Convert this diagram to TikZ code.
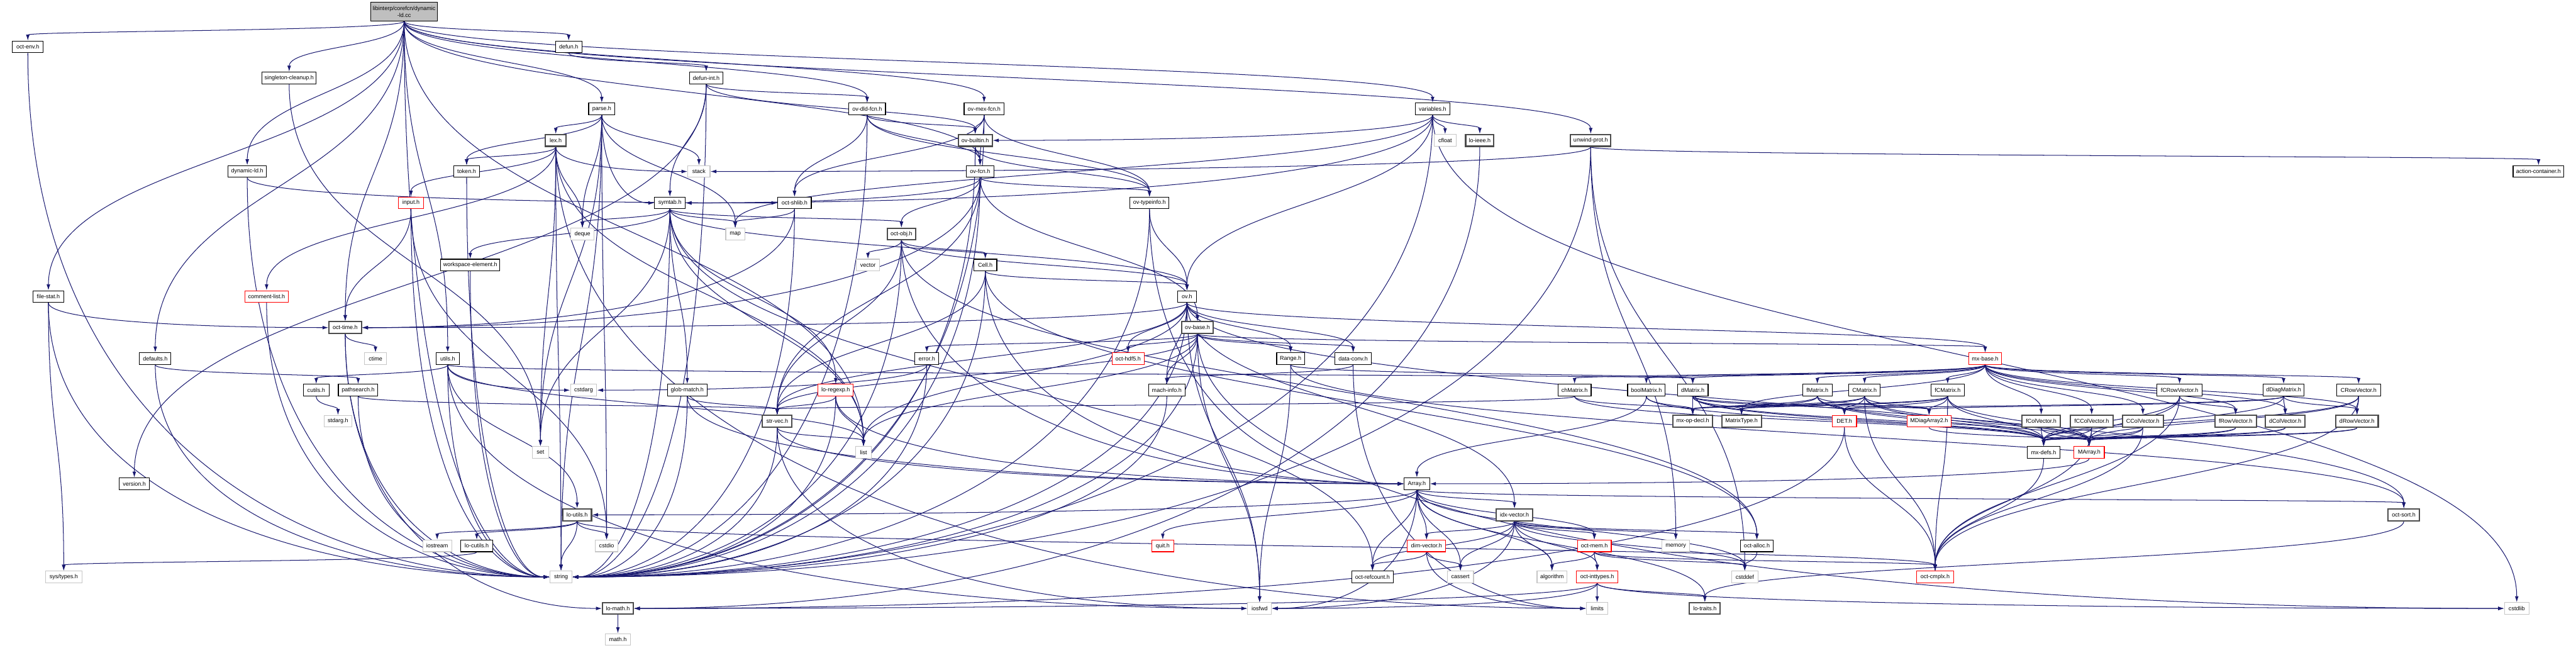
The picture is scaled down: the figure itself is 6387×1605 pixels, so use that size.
\documentclass[tikz,border=0pt]{standalone}
\usepackage{fontspec}
\setmainfont{Liberation Sans}
\usetikzlibrary{arrows.meta,backgrounds,calc}
\definecolor{mblue}{HTML}{191970}
\definecolor{rootgray}{HTML}{BFBFBF}
\begin{document}
\begin{tikzpicture}[x=0.01cm,y=0.01cm,
  base/.style={rectangle, minimum height=0.29cm, inner sep=0pt, font=\fontsize{4}{4.6}\selectfont, fill=white, line width=0.5pt},
  hn/.style={base, draw=black},
  hg/.style={base, draw=black!70, line width=0.9pt},
  sy/.style={base, draw=gray!45},
  redn/.style={base, draw=red},
  rootn/.style={base, draw=black, fill=rootgray, minimum height=0.46cm, align=center},
  edbase/.style={draw=mblue, line width=0.45pt, -{Latex[length=4.2pt,width=2.6pt]}},
  ed/.style={edbase, to path={let \p1=(\tikztostart.south), \p2=(\tikztotarget.north), \n1={max(0.5*(\y1-\y2),4pt)} in (\p1) .. controls +(0pt,{-1pt*\n1}) and +(0pt,{1pt*\n1}) .. (\p2)}},
  edL/.style={edbase, to path={let \p1=(\tikztostart.south), \p2=(\tikztotarget.west), \n1={max(0.7*(\y1-\y2),4pt)}, \n2={max(0.5*(\x2-\x1),4pt)} in (\p1) .. controls +(0pt,{-1pt*\n1}) and +({-1pt*\n2},0pt) .. (\p2)}},
  edR/.style={edbase, to path={let \p1=(\tikztostart.south), \p2=(\tikztotarget.east), \n1={max(0.7*(\y1-\y2),4pt)}, \n2={max(0.5*(\x1-\x2),4pt)} in (\p1) .. controls +(0pt,{-1pt*\n1}) and +({1pt*\n2},0pt) .. (\p2)}}]
\useasboundingbox (0,0) rectangle (6387,-1605);
% rank 0-1
\node[rootn, minimum width=1.65cm] (root) at (1002,-29) {libinterp/corefcn/dynamic\\-ld.cc};
\node[hn, minimum width=0.76cm] (envh) at (69,-116) {oct-env.h};
\node[hn, minimum width=0.65cm] (defunh) at (1410,-116) {defun.h};
% rank 2
\node[hn, minimum width=1.34cm] (singh) at (717,-193) {singleton-cleanup.h};
\node[hn, minimum width=0.83cm] (defunint) at (1751,-193) {defun-int.h};
% rank 3
\node[hn, minimum width=0.65cm] (parse) at (1492,-270) {parse.h};
\node[hn, minimum width=0.91cm] (ovdld) at (2150,-270) {ov-dld-fcn.h};
\node[hn, minimum width=0.99cm] (ovmex) at (2440,-270) {ov-mex-fcn.h};
\node[hn, minimum width=0.86cm] (vars) at (3552,-270) {variables.h};
% rank 4
\node[hg, minimum width=0.51cm] (lex) at (1378,-348) {lex.h};
\node[hg, minimum width=0.84cm] (ovbuiltin) at (2418,-348) {ov-builtin.h};
\node[sy, minimum width=0.55cm] (cfloat) at (3583,-348) {cfloat};
\node[hg, minimum width=0.70cm] (loieee) at (3669,-348) {lo-ieee.h};
\node[hg, minimum width=1.00cm] (unwind) at (3944,-348) {unwind-prot.h};
% rank 5
\node[hn, minimum width=0.96cm] (dynld) at (613,-425) {dynamic-ld.h};
\node[hn, minimum width=0.65cm] (token) at (1157,-425) {token.h};
\node[sy, minimum width=0.55cm] (stack) at (1733,-425) {stack};
\node[hn, minimum width=0.69cm] (ovfcn) at (2430,-425) {ov-fcn.h};
\node[hn, minimum width=1.26cm] (actcont) at (6294,-425) {action-container.h};
% rank 6
\node[redn, minimum width=0.61cm] (input) at (1019,-503) {input.h};
\node[hn, minimum width=0.76cm] (symtab) at (1661,-503) {symtab.h};
\node[hn, minimum width=0.83cm] (shlib) at (1970,-503) {oct-shlib.h};
\node[hn, minimum width=0.97cm] (typeinfo) at (2850,-503) {ov-typeinfo.h};
% rank 7
\node[sy, minimum width=0.57cm] (deque) at (1444,-580) {deque};
\node[sy, minimum width=0.47cm] (map) at (1823,-580) {map};
\node[hg, minimum width=0.71cm] (octobj) at (2235,-580) {oct-obj.h};
% rank 8
\node[hn, minimum width=1.47cm] (wselem) at (1166,-657) {workspace-element.h};
\node[sy, minimum width=0.58cm] (vector) at (2152,-657) {vector};
\node[hn, minimum width=0.57cm] (cell) at (2443,-657) {Cell.h};
% rank 9
\node[hn, minimum width=0.76cm] (filestat) at (120,-735) {file-stat.h};
\node[redn, minimum width=1.08cm] (commentlist) at (661,-735) {comment-list.h};
\node[hn, minimum width=0.47cm] (ovh) at (2943,-735) {ov.h};
% rank 10
\node[hg, minimum width=0.80cm] (octtime) at (856,-812) {oct-time.h};
\node[hg, minimum width=0.79cm] (ovbase) at (2969,-812) {ov-base.h};
% rank 11
\node[hn, minimum width=0.78cm] (defaults) at (385,-889) {defaults.h};
\node[sy, minimum width=0.55cm] (ctime) at (931,-889) {ctime};
\node[hn, minimum width=0.57cm] (utils) at (1110,-889) {utils.h};
\node[hn, minimum width=0.59cm] (error) at (2298,-889) {error.h};
\node[redn, minimum width=0.80cm] (hdf5) at (2797,-889) {oct-hdf5.h};
\node[hn, minimum width=0.69cm] (range) at (3200,-889) {Range.h};
\node[hn, minimum width=0.91cm] (dataconv) at (3355,-889) {data-conv.h};
\node[redn, minimum width=0.82cm] (mxbase) at (4922,-889) {mx-base.h};
% rank 12
\node[hn, minimum width=0.64cm] (cutils) at (784,-967) {cutils.h};
\node[hn, minimum width=0.98cm] (pathsearch) at (888,-967) {pathsearch.h};
\node[sy, minimum width=0.65cm] (cstdarg) at (1447,-967) {cstdarg};
\node[hn, minimum width=0.98cm] (globmatch) at (1704,-967) {glob-match.h};
\node[redn, minimum width=0.87cm] (loregexp) at (2072,-967) {lo-regexp.h};
\node[hn, minimum width=0.91cm] (machinfo) at (2893,-967) {mach-info.h};
\node[hn, minimum width=0.82cm] (chmat) at (3904,-967) {chMatrix.h};
\node[hn, minimum width=0.93cm] (boolmat) at (4082,-967) {boolMatrix.h};
\node[hn, minimum width=0.76cm] (dmat) at (4197,-967) {dMatrix.h};
\node[hn, minimum width=0.73cm] (fmat) at (4506,-967) {fMatrix.h};
\node[hn, minimum width=0.78cm] (cmat) at (4623,-967) {CMatrix.h};
\node[hn, minimum width=0.83cm] (fcmat) at (4829,-967) {fCMatrix.h};
\node[hn, minimum width=1.12cm] (fcrow) at (5404,-967) {fCRowVector.h};
\node[hn, minimum width=1.02cm] (ddiag) at (5662,-967) {dDiagMatrix.h};
\node[hn, minimum width=1.09cm] (crow) at (5848,-967) {CRowVector.h};
% rank 13
\node[sy, minimum width=0.69cm] (stdargh) at (838,-1044) {stdarg.h};
\node[hg, minimum width=0.73cm] (strvec) at (1927,-1044) {str-vec.h};
\node[hg, minimum width=0.97cm] (mxopdecl) at (4197,-1044) {mx-op-decl.h};
\node[hg, minimum width=0.98cm] (mattype) at (4318,-1044) {MatrixType.h};
\node[redn, minimum width=0.60cm] (det) at (4573,-1044) {DET.h};
\node[redn, minimum width=1.10cm] (mdiag) at (4783,-1044) {MDiagArray2.h};
\node[hg, minimum width=0.96cm] (fcol) at (5061,-1044) {fColVector.h};
\node[hg, minimum width=1.06cm] (fccol) at (5186,-1044) {fCColVector.h};
\node[hg, minimum width=1.01cm] (ccol) at (5313,-1044) {CColVector.h};
\node[hg, minimum width=1.03cm] (frow) at (5543,-1044) {fRowVector.h};
\node[hg, minimum width=0.98cm] (dcol) at (5666,-1044) {dColVector.h};
\node[hg, minimum width=1.05cm] (drow) at (5844,-1044) {dRowVector.h};
% rank 14
\node[sy, minimum width=0.40cm] (set) at (1340,-1121) {set};
\node[sy, minimum width=0.39cm] (list) at (2141,-1121) {list};
\node[hn, minimum width=0.80cm] (mxdefs) at (5067,-1121) {mx-defs.h};
\node[redn, minimum width=0.75cm] (marray) at (5180,-1121) {MArray.h};
% rank 15
\node[hn, minimum width=0.74cm] (version) at (333,-1199) {version.h};
\node[hn, minimum width=0.63cm] (array) at (3513,-1199) {Array.h};
% rank 16
\node[hg, minimum width=0.71cm] (loutils) at (1431,-1276) {lo-utils.h};
\node[hg, minimum width=0.91cm] (idxvec) at (3755,-1276) {idx-vector.h};
\node[hg, minimum width=0.78cm] (octsort) at (5960,-1276) {oct-sort.h};
% rank 17
\node[sy, minimum width=0.72cm] (iostream) at (1084,-1353) {iostream};
\node[hn, minimum width=0.79cm] (locutils) at (1182,-1353) {lo-cutils.h};
\node[sy, minimum width=0.57cm] (cstdio) at (1504,-1353) {cstdio};
\node[redn, minimum width=0.55cm] (quit) at (2883,-1353) {quit.h};
\node[redn, minimum width=0.95cm] (dimvec) at (3537,-1353) {dim-vector.h};
\node[redn, minimum width=0.84cm] (octmem) at (3953,-1353) {oct-mem.h};
\node[sy, minimum width=0.69cm] (memory) at (4155,-1353) {memory};
\node[hn, minimum width=0.82cm] (octalloc) at (4356,-1353) {oct-alloc.h};
% rank 18
\node[sy, minimum width=0.91cm] (systypes) at (158,-1430) {sys/types.h};
\node[sy, minimum width=0.55cm] (string) at (1391,-1430) {string};
\node[hn, minimum width=1.03cm] (refcount) at (3403,-1430) {oct-refcount.h};
\node[sy, minimum width=0.65cm] (cassert) at (3621,-1430) {cassert};
\node[sy, minimum width=0.74cm] (algorithm) at (3848,-1430) {algorithm};
\node[redn, minimum width=1.02cm] (inttypes) at (3960,-1430) {oct-inttypes.h};
\node[sy, minimum width=0.65cm] (cstddef) at (4326,-1430) {cstddef};
\node[redn, minimum width=0.91cm] (cmplx) at (4798,-1430) {oct-cmplx.h};
% rank 19
\node[hg, minimum width=0.76cm] (lomath) at (1532,-1508) {lo-math.h};
\node[sy, minimum width=0.59cm] (iosfwd) at (3123,-1508) {iosfwd};
\node[sy, minimum width=0.53cm] (limits) at (3960,-1508) {limits};
\node[hg, minimum width=0.76cm] (lotraits) at (4227,-1508) {lo-traits.h};
\node[sy, minimum width=0.61cm] (cstdlib) at (6240,-1508) {cstdlib};
% rank 20
\node[sy, minimum width=0.62cm] (mathh) at (1532,-1585) {math.h};

\begin{pgfonlayer}{background}
% into string
\foreach \s in {root,envh,dynld,token,input,wselem,filestat,commentlist,octtime,defaults,utils,pathsearch}
  \draw[edL] (\s) to (string);
\foreach \s in {defunint,ovdld,ovmex,vars,ovbuiltin,unwind,ovfcn,symtab,shlib,typeinfo,octobj,cell,ovh,ovbase,error,globmatch,loregexp,machinfo,strvec}
  \draw[edR] (\s) to (string);
\foreach \s in {parse,lex,loutils}
  \draw[ed] (\s) to (string);
% root
\foreach \t in {envh,defunh,singh,parse,ovdld,ovmex,vars,unwind,dynld,ovfcn,filestat,octtime,defaults,utils,list}
  \draw[ed] (root) to (\t);
\draw[ed] (singh) to (set);
\draw[ed] (defunh) to (defunint);
\foreach \t in {ovbuiltin,ovdld,symtab,version}
  \draw[ed] (defunint) to (\t);
\foreach \t in {lex,token,deque,map,set,stack,cstdio}
  \draw[ed] (parse) to (\t);
\draw[edL] (parse) to (symtab);
\foreach \t in {shlib,ovfcn,ovbuiltin,typeinfo}
  \draw[ed] (ovdld) to (\t);
\foreach \t in {shlib,ovfcn,ovbuiltin,typeinfo}
  \draw[ed] (ovmex) to (\t);
\foreach \t in {cfloat,loieee,ovh,map}
  \draw[ed] (vars) to (\t);
\draw[edR] (vars) to (ovbuiltin);
\draw[edR] (vars) to (symtab);
\draw[ed] (vars) to (cstdlib);
\foreach \t in {deque,set,list,token,input,commentlist}
  \draw[ed] (lex) to (\t);
\draw[edL] (lex) to (stack);
\draw[edL] (lex) to (limits);
\foreach \t in {ovfcn,typeinfo}
  \draw[ed] (ovbuiltin) to (\t);
\draw[edR] (loieee) to (lomath);
\foreach \t in {actcont,memory,cstddef}
  \draw[ed] (unwind) to (\t);
\draw[edR] (unwind) to (stack);
\draw[edL] (dynld) to (shlib);
\foreach \t in {strvec,octobj,ovbase,typeinfo}
  \draw[ed] (ovfcn) to (\t);
\draw[edR] (ovfcn) to (octtime);
\draw[edR] (ovfcn) to (symtab);
\draw[ed] (input) to (octtime);
\draw[ed] (input) to (cstdio);
\foreach \t in {deque,list,map,set,globmatch,loregexp,octobj,wselem,ovh,refcount}
  \draw[ed] (symtab) to (\t);
\draw[ed] (shlib) to (map);
\draw[edR] (shlib) to (octtime);
\draw[ed] (typeinfo) to (ovh);
\draw[edL] (typeinfo) to (array);
\foreach \t in {vector,cell,ovh,octalloc,strvec}
  \draw[ed] (octobj) to (\t);
\draw[edL] (octobj) to (array);
\foreach \t in {octalloc,strvec,ovh}
  \draw[ed] (cell) to (\t);
\draw[edL] (cell) to (array);
\draw[edL] (filestat) to (octtime);
\draw[ed] (filestat) to (systypes);
\foreach \t in {list,iosfwd,range,dataconv,idxvec,machinfo,mxbase,strvec,hdf5,ovbase,octsort}
  \draw[ed] (ovh) to (\t);
\draw[edR] (ovh) to (octtime);
\draw[ed] (octtime) to (ctime);
\draw[edL] (octtime) to (lomath);
\foreach \t in {iosfwd,list,range,dataconv,mxbase,strvec,error,hdf5,machinfo}
  \draw[ed] (ovbase) to (\t);
\draw[edL] (ovbase) to (cstdlib);
\draw[ed] (defaults) to (pathsearch);
\foreach \t in {list,loutils,cutils,dmat}
  \draw[ed] (utils) to (\t);
\draw[edL] (utils) to (cstdarg);
\draw[edL] (utils) to (iosfwd);
\draw[edR] (error) to (cstdarg);
\draw[ed] (range) to (iosfwd);
\draw[ed] (range) to (dmat);
\draw[ed] (range) to (octsort);
\draw[ed] (dataconv) to (machinfo);
\draw[edL] (dataconv) to (limits);
\foreach \t in {mattype,boolmat,chmat,dmat,cmat,fmat,fcmat,dcol,drow,ccol,crow,fcol,frow,fccol,fcrow,ddiag}
  \draw[ed] (mxbase) to (\t);
\draw[ed] (cutils) to (stdargh);
\draw[ed] (pathsearch) to (strvec);
\draw[ed] (globmatch) to (strvec);
\draw[edL] (globmatch) to (array);
\draw[ed] (loregexp) to (list);
\draw[ed] (loregexp) to (strvec);
\draw[edL] (loregexp) to (array);
\foreach \t in {mxdefs,mxopdecl}
  \draw[ed] (chmat) to (\t);
\draw[ed] (chmat) to (strvec);
\foreach \t in {mxdefs,mxopdecl,array}
  \draw[ed] (boolmat) to (\t);
\foreach \s in {dmat,fmat,cmat,fcmat}
  \foreach \t in {mxdefs,mxopdecl,mattype,det,mdiag,marray}
    \draw[ed] (\s) to (\t);
\draw[ed] (cmat) to (cmplx);
\draw[ed] (fcmat) to (cmplx);
\foreach \t in {marray,mxdefs,frow,cmplx}
  \draw[ed] (fcrow) to (\t);
\foreach \t in {mdiag,drow,dcol,det,mxdefs}
  \draw[ed] (ddiag) to (\t);
\foreach \t in {marray,drow,mxdefs,cmplx}
  \draw[ed] (crow) to (\t);
\draw[ed] (strvec) to (list);
\draw[edL] (strvec) to (iosfwd);
\draw[edL] (strvec) to (array);
\draw[ed] (det) to (cmplx);
\draw[edR] (det) to (lomath);
\draw[ed] (mdiag) to (marray);
\foreach \s in {fcol,fccol,ccol,frow,dcol,drow}
  \draw[ed] (\s) to (marray);
\foreach \s in {fcol,fccol,ccol,frow,dcol,drow}
  \draw[ed] (\s) to (mxdefs);
\draw[ed] (fccol) to (cmplx);
\draw[ed] (ccol) to (cmplx);
\draw[ed] (mxdefs) to (cmplx);
\draw[edR] (marray) to (array);
\foreach \t in {cassert,cstddef,algorithm,dimvec,idxvec,lotraits,octsort,quit,octmem,refcount}
  \draw[ed] (array) to (\t);
\draw[edR] (array) to (iosfwd);
\draw[edR] (array) to (loutils);
\foreach \t in {cstdio,iostream,locutils,cmplx}
  \draw[ed] (loutils) to (\t);
\foreach \t in {cassert,algorithm,memory,dimvec,inttypes,octalloc,octmem,refcount,cstddef}
  \draw[ed] (idxvec) to (\t);
\draw[edR] (idxvec) to (iosfwd);
\draw[ed] (octsort) to (lotraits);
\draw[ed] (locutils) to (systypes);
\foreach \t in {cassert,refcount}
  \draw[ed] (dimvec) to (\t);
\draw[edL] (dimvec) to (limits);
\foreach \t in {cstddef,algorithm,cmplx,inttypes}
  \draw[ed] (octmem) to (\t);
\draw[ed] (octalloc) to (cstddef);
\foreach \t in {limits,lotraits}
  \draw[ed] (inttypes) to (\t);
\draw[edR] (inttypes) to (lomath);
\draw[edR] (inttypes) to (iosfwd);
\draw[edL] (inttypes) to (cstdlib);
\draw[ed] (lomath) to (mathh);
\end{pgfonlayer}
\end{tikzpicture}
\end{document}
